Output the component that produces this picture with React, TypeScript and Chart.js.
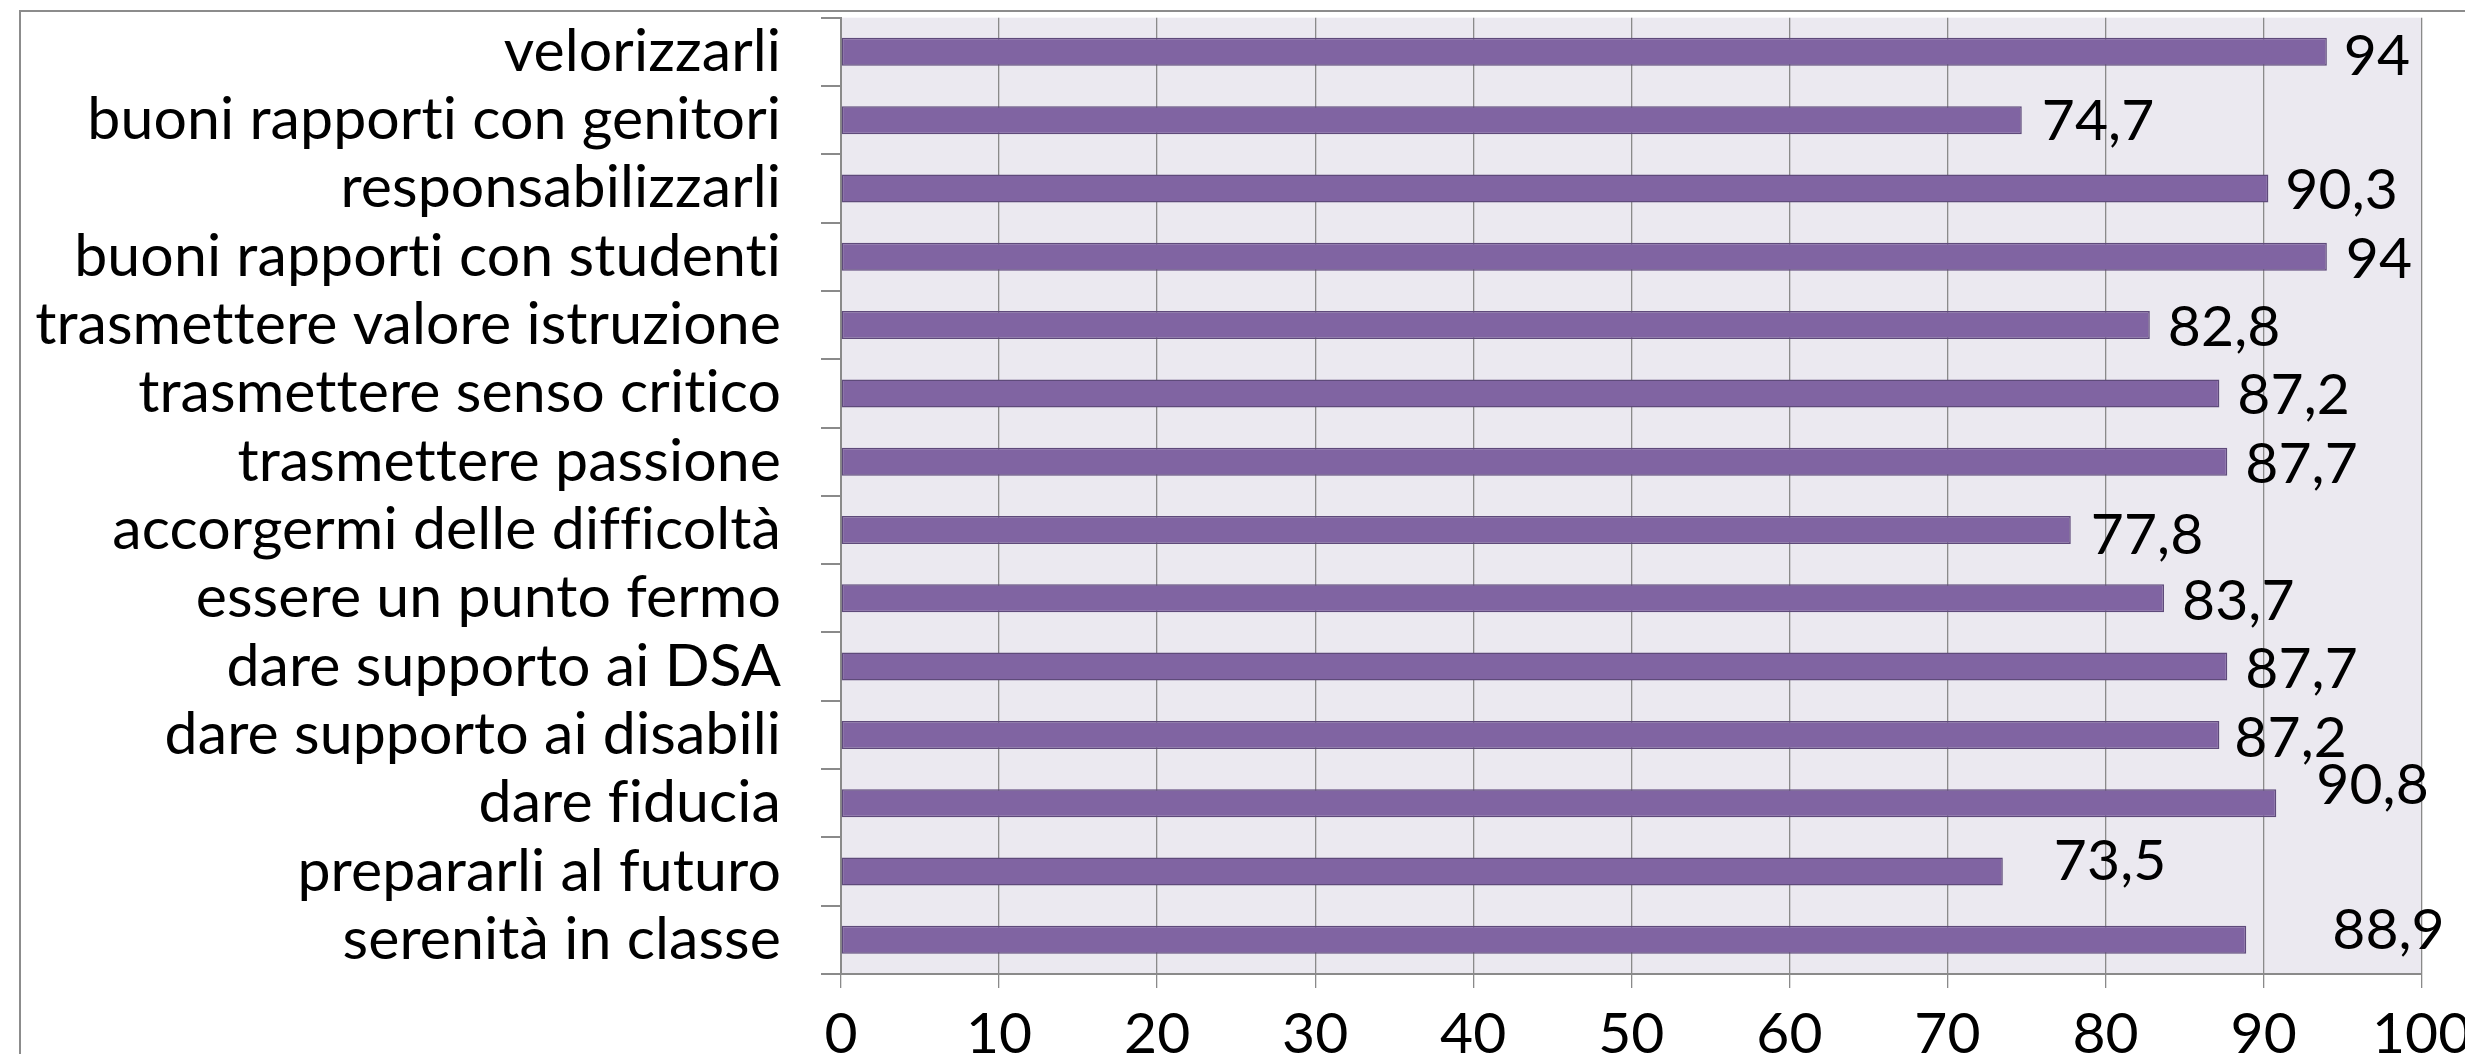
import React, { useEffect, useRef } from 'react';
import { Chart, registerables } from 'chart.js';

Chart.register(...registerables);

const categories = [
  'velorizzarli',
  'buoni rapporti con genitori',
  'responsabilizzarli',
  'buoni rapporti con studenti',
  'trasmettere valore istruzione',
  'trasmettere senso critico',
  'trasmettere passione',
  'accorgermi delle difficoltà',
  'essere un punto fermo',
  'dare supporto ai DSA',
  'dare supporto ai disabili',
  'dare fiducia',
  'prepararli al futuro',
  'serenità in classe',
];

const values = [94, 74.7, 90.3, 94, 82.8, 87.2, 87.7, 77.8, 83.7, 87.7, 87.2, 90.8, 73.5, 88.9];

const xMin = 0;
const xMax = 100;
const xStep = 10;

// label nudges relative to bar end (style only): [dx, dy to baseline]
const labelShift: [number, number][] = [
  [17, 23], [20, 20], [17, 21], [19, 21], [18, 21], [18, 21], [18, 21],
  [20, 24], [18, 22], [18, 21], [15, 22], [40, 1], [51, 8], [86, 9],
];

const FONT = 'Lato, "Open Sans", sans-serif';
const GRID = '#8a8a8a';

export default function App() {
  const ref = useRef<HTMLCanvasElement | null>(null);

  useEffect(() => {
    const canvas = ref.current;
    if (!canvas) return;

    const bgPlugin = {
      id: 'bgPlugin',
      beforeDraw(chart: any) {
        const { ctx, chartArea, width, height } = chart;
        try {
          (ctx as any).letterSpacing = '0.1px';
        } catch (e) {
          /* ignore */
        }
        ctx.save();
        ctx.fillStyle = '#ffffff';
        ctx.fillRect(0, 0, width, height);
        ctx.fillStyle = '#ebe9f0';
        ctx.fillRect(chartArea.left, chartArea.top, chartArea.right - chartArea.left, chartArea.bottom - chartArea.top);
        ctx.strokeStyle = '#8c8c8c';
        ctx.lineWidth = 2;
        ctx.beginPath();
        ctx.moveTo(20, height + 5);
        ctx.lineTo(20, 11);
        ctx.lineTo(width + 5, 11);
        ctx.stroke();
        ctx.restore();
      },
    };

    const valuePlugin = {
      id: 'valuePlugin',
      afterDatasetsDraw(chart: any) {
        const { ctx } = chart;
        const meta = chart.getDatasetMeta(0);
        ctx.save();
        ctx.font = `57px ${FONT}`;
        ctx.fillStyle = '#000000';
        ctx.textAlign = 'left';
        ctx.textBaseline = 'alphabetic';
        meta.data.forEach((bar: any, i: number) => {
          const [dx, dy] = labelShift[i] || [18, 21];
          const txt = String(values[i]).replace('.', ',');
          ctx.fillText(txt, bar.x + dx, bar.y + dy);
        });
        ctx.restore();
      },
    };

    const chart = new Chart(canvas, {
      type: 'bar',
      data: {
        labels: categories,
        datasets: [
          {
            data: values,
            backgroundColor: '#8064a2',
            borderColor: '#5e4a7a',
            borderWidth: 1.5,
            borderSkipped: false,
            categoryPercentage: 1,
            barPercentage: 0.41,
          },
        ],
      },
      options: {
        indexAxis: 'y',
        responsive: false,
        animation: false,
        devicePixelRatio: 1,
        layout: { padding: { top: 17.7, right: 43.3, bottom: 0, left: 0 } },
        plugins: {
          legend: { display: false },
          tooltip: { enabled: false },
          title: { display: false },
        },
        scales: {
          x: {
            type: 'linear',
            min: xMin,
            max: xMax,
            ticks: {
              stepSize: xStep,
              color: '#000000',
              font: { family: FONT, size: 57 },
              padding: 12,
              maxRotation: 0,
            },
            grid: {
              color: GRID,
              lineWidth: 1.3,
              tickLength: 14,
              drawTicks: true,
            },
            border: { display: true, color: GRID, width: 2 },
            afterFit(scale: any) {
              scale.height = 80;
              scale.paddingLeft = 0;
              scale.paddingRight = 0;
              scale.paddingTop = 0;
              scale.paddingBottom = 0;
            },
          },
          y: {
            type: 'category',
            offset: true,
            ticks: {
              color: '#000000',
              font: { family: FONT, size: 59 },
              padding: 40,
              autoSkip: false,
            },
            grid: {
              offset: true,
              drawOnChartArea: false,
              drawTicks: true,
              tickLength: 20,
              color: GRID,
              lineWidth: 2,
            },
            border: { display: true, color: GRID, width: 2 },
            afterFit(scale: any) {
              scale.width = 841;
              scale.paddingLeft = 0;
              scale.paddingRight = 0;
              scale.paddingTop = 0;
              scale.paddingBottom = 0;
            },
          },
        },
      },
      plugins: [bgPlugin, valuePlugin],
    });

    return () => chart.destroy();
  }, []);

  return (
    <div style={{ position: 'fixed', left: 0, top: 0, width: 2465, height: 1054, background: '#ffffff' }}>
      <canvas ref={ref} width={2465} height={1054} style={{ display: 'block', width: 2465, height: 1054 }} />
    </div>
  );
}
